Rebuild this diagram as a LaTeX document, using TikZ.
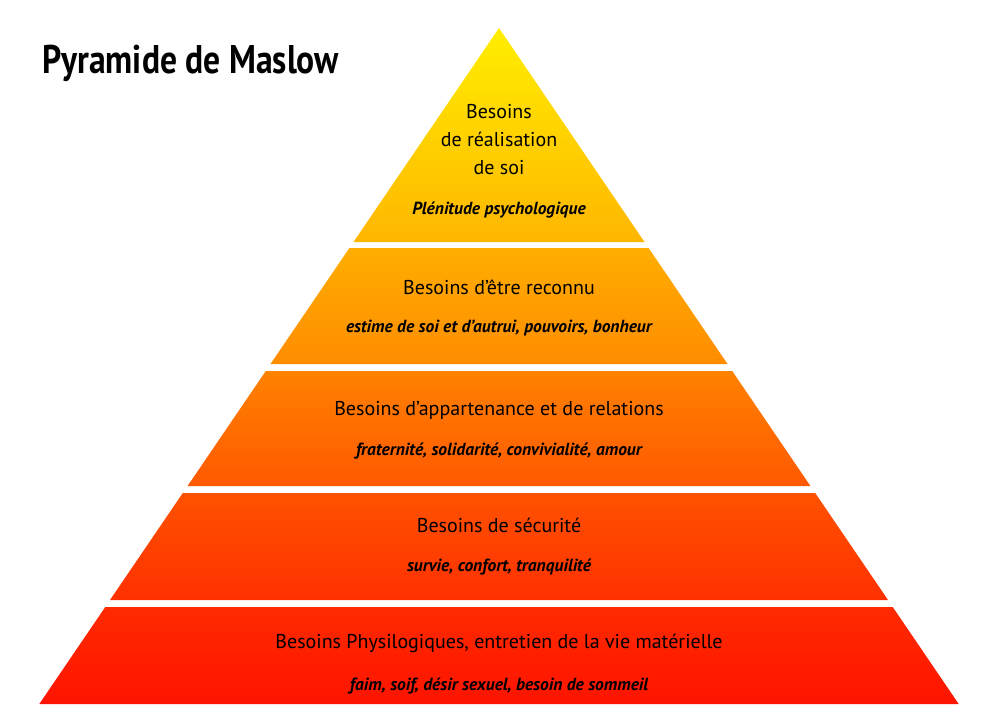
\documentclass[tikz,border=0pt]{standalone}
\usepackage{fontspec}
\setmainfont{PT Sans}
\newfontfamily\labfont[FakeStretch=1.0]{PT Sans}
\newfontfamily\subfont[FakeStretch=1.0]{PT Sans}
\newfontfamily\titlefont[FakeStretch=0.84]{PT Sans}
\definecolor{c0}{RGB}{255,238,0}
\definecolor{c1}{RGB}{255,182,0}
\definecolor{c2}{RGB}{255,174,0}
\definecolor{c3}{RGB}{255,140,0}
\definecolor{c4}{RGB}{255,130,0}
\definecolor{c5}{RGB}{255,88,0}
\definecolor{c6}{RGB}{255,82,0}
\definecolor{c7}{RGB}{255,48,0}
\definecolor{c8}{RGB}{255,42,0}
\definecolor{c9}{RGB}{255,20,0}
\tikzset{
  mainlabel/.style={font=\labfont\fontsize{20}{28}\selectfont, align=center, text=black, inner sep=0pt},
  sublabel/.style={font=\subfont\bfseries\itshape\fontsize{17.5}{20}\selectfont, text=black, inner sep=0pt},
  titlelabel/.style={font=\titlefont\bfseries\fontsize{40}{44}\selectfont, text=black, inner sep=0pt, anchor=west}
}
\begin{document}
\begin{tikzpicture}[x=1pt,y=-1pt]
\useasboundingbox (0,0) rectangle (1000,704);
\fill[white] (0,0) rectangle (1000,704);
% bands
\shade[top color=c0, bottom color=c1] (499,28) -- (644.5,242) -- (353.5,242) -- cycle;
\shade[top color=c2, bottom color=c3] (349.4,248) -- (648.6,248) -- (727.5,364) -- (270.5,364) -- cycle;
\shade[top color=c4, bottom color=c5] (265.8,371) -- (732.2,371) -- (810.4,486) -- (187.6,486) -- cycle;
\shade[top color=c6, bottom color=c7] (182.8,493) -- (815.2,493) -- (888,600) -- (110,600) -- cycle;
\shade[top color=c8, bottom color=c9] (105.3,607) -- (892.7,607) -- (958.7,704) -- (39.3,704) -- cycle;
% title
\node[titlelabel] (title) at (42,63) {Pyramide de Maslow};
% labels
\node[mainlabel] (l1) at (499,140) {Besoins\\de réalisation\\de soi};
\node[sublabel] (s1) at (499,210) {Plénitude psychologique};
\node[mainlabel] (l2) at (499,287) {Besoins d’être reconnu};
\node[sublabel] (s2) at (499,328) {estime de soi et d’autrui, pouvoirs, bonheur};
\node[mainlabel] (l3) at (499,410) {Besoins d’appartenance et de relations};
\node[sublabel] (s3) at (499,451) {fraternité, solidarité, convivialité, amour};
\node[mainlabel] (l4) at (499,525) {Besoins de sécurité};
\node[sublabel] (s4) at (499,567) {survie, confort, tranquilité};
\node[mainlabel] (l5) at (499,643) {Besoins Physilogiques, entretien de la vie matérielle};
\node[sublabel] (s5) at (499,686) {faim, soif, désir sexuel, besoin de sommeil};
\end{tikzpicture}
\end{document}
